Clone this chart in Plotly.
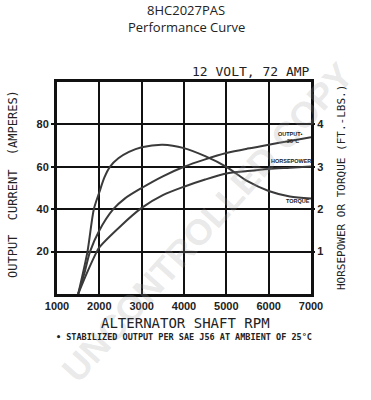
import plotly.graph_objects as go

# ---- data ----
rpm_output = [1500, 1650, 1780, 2000, 2330, 2600, 3000, 3500, 4000, 4500, 5000, 5500, 6000, 6500, 7000]
output_amps = [0, 10, 20, 30, 40, 45, 50, 55.5, 60, 63.5, 66.5, 68.6, 70.4, 72.2, 74]

rpm_hp = [1500, 1700, 1940, 2000, 2500, 3000, 3500, 4000, 4500, 5000, 5500, 6000, 6500, 7000]
horsepower = [0, 0.48, 1.0, 1.1, 1.6, 2.03, 2.33, 2.53, 2.7, 2.84, 2.9, 2.95, 2.98, 3.01]

rpm_torque = [1500, 1720, 1870, 2000, 2120, 2250, 2450, 2700, 3000, 3500, 4000, 4500, 5000, 5500, 6000, 6500, 7000]
torque = [0, 1.0, 2.0, 2.4, 2.75, 3.0, 3.2, 3.35, 3.46, 3.52, 3.44, 3.25, 3.0, 2.66, 2.43, 2.3, 2.25]

x_ticks = [1000, 2000, 3000, 4000, 5000, 6000, 7000]
left_ticks = [20, 40, 60, 80]
right_ticks = [1, 2, 3, 4]

CURVE = "#3a3a3a"
MONO = "DejaVu Sans Mono"

fig = go.Figure()
fig.add_trace(go.Scatter(x=rpm_output, y=output_amps, mode="lines",
                         line=dict(color=CURVE, width=2, shape="spline", smoothing=0.8),
                         showlegend=False, hoverinfo="skip"))
fig.add_trace(go.Scatter(x=rpm_hp, y=horsepower, yaxis="y2", mode="lines",
                         line=dict(color=CURVE, width=2, shape="spline", smoothing=0.8),
                         showlegend=False, hoverinfo="skip"))
fig.add_trace(go.Scatter(x=rpm_torque, y=torque, yaxis="y2", mode="lines",
                         line=dict(color=CURVE, width=2, shape="spline", smoothing=0.8),
                         showlegend=False, hoverinfo="skip"))

tickfont = dict(family="Liberation Sans", size=11, color="#222", weight="bold")

fig.update_layout(
    width=371, height=400,
    margin=dict(l=57, r=60, t=82, b=106),
    paper_bgcolor="white", plot_bgcolor="white",
    xaxis=dict(range=[1000, 7000], tickvals=x_ticks, showgrid=True, gridcolor="#111", gridwidth=2,
               showline=True, linecolor="#111", linewidth=3, mirror=True, zeroline=False,
               ticks="", tickfont=tickfont, ticklabelstandoff=0, automargin=False),
    yaxis=dict(range=[0, 100], tickvals=left_ticks, showgrid=True, gridcolor="#111", gridwidth=2,
               showline=True, linecolor="#111", linewidth=3, mirror=True, zeroline=False,
               ticks="outside", ticklen=3, tickwidth=2, tickcolor="#111", tickfont=tickfont,
               automargin=False),
    yaxis2=dict(range=[0, 5], tickvals=right_ticks, overlaying="y", side="right", showgrid=False,
                zeroline=False, showline=False, ticks="outside", ticklen=3, tickwidth=2,
                tickcolor="#111", tickfont=tickfont, automargin=False),
)

L, R, T, B = 57, 311, 82, 294
def pa(text, x, y, size, family=MONO, angle=0, color="#222", weight="bold", xanchor="center"):
    fig.add_annotation(text=text, x=(x - L) / (R - L), y=(B - y) / (B - T), xref="paper", yref="paper",
                       xanchor=xanchor, yanchor="middle", showarrow=False, textangle=angle,
                       font=dict(family=family, size=size, color=color, weight=weight))

# watermark
pa("UNCONTROLLED COPY", 207, 222, 36, family="Liberation Sans", angle=-48,
   color="rgba(160,160,160,0.24)", weight="bold")

pa("8HC2027PAS", 186, 10, 13, family="Open Sans", weight="normal")
pa("Performance Curve", 186, 27, 13, family="Open Sans", weight="normal")
pa("12 VOLT, 72 AMP", 312, 72, 13, xanchor="right", weight="normal")
pa("OUTPUT  CURRENT  (AMPERES)", 13, 184, 12, angle=-90, weight="normal")
pa("HORSEPOWER OR TORQUE (FT.-LBS.)", 341, 188, 11, angle=-90, weight="normal")
pa("ALTERNATOR SHAFT RPM", 185, 323, 14, weight="normal")
pa("\u2022 STABILIZED OUTPUT PER SAE J56 AT AMBIENT OF 25\u00b0C", 184, 337, 8.5)

# curve labels
pa("OUTPUT\u2022", 290, 134, 5.5, family="Liberation Sans")
pa("25\u00b0C", 293, 141, 5.5, family="Liberation Sans")
pa("HORSEPOWER", 291, 161, 5.5, family="Liberation Sans")
pa("TORQUE", 298, 201, 5.5, family="Liberation Sans")

fig.write_html("out.html", config={"displayModeBar": False},
               post_script="document.body.style.margin='0';")
